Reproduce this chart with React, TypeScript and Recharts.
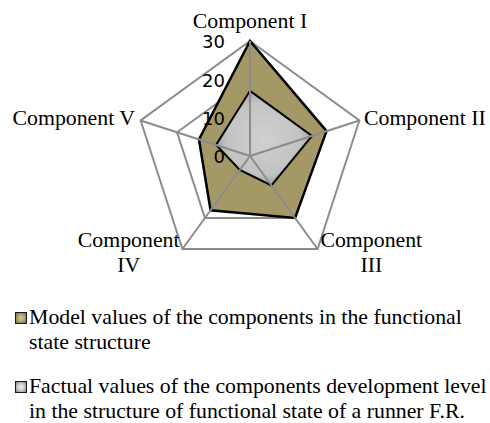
import { PolarAngleAxis, PolarGrid, PolarRadiusAxis, Radar, RadarChart, Legend } from "recharts"

const categories = ["Component I", "Component II", "Component III", "Component IV", "Component V"]
const tickLabels = ["Component I", "Component II", "Component\nIII", "Component\nIV", "Component V"]
const modelValues = [30, 21, 20, 17.5, 14]
const factualValues = [17, 17, 9.5, 4.5, 9.3]
const radiusTicks = [0, 10, 20, 30]
const seriesNames = [
  "Model values of the components in the functional\nstate structure",
  "Factual values of the components development level\nin the structure of functional state of a runner F.R.",
]

const data = categories.map((c, i) => ({
  name: c,
  label: tickLabels[i],
  model: modelValues[i],
  factual: factualValues[i],
}))

const serif = "'Liberation Serif', 'Times New Roman', serif"

const AngleTick = (props: any) => {
  const { x, y, payload, index, textAnchor } = props
  const lines = String(tickLabels[index] ?? payload.value).split("\n")
  if (lines.length > 1) {
    const dx = textAnchor === "start" ? 49 : -49
    return (
      <text x={x + dx} y={y - 9} textAnchor="middle" fontFamily={serif} fontSize={21.8} fill="#000">
        {lines.map((l, i) => (
          <tspan key={i} x={x + dx} dy={i === 0 ? 0 : 25}>
            {l}
          </tspan>
        ))}
      </text>
    )
  }
  let tx = x
  let ty = y + 7
  if (textAnchor === "middle") ty = y - 5
  if (textAnchor === "start") tx = x - 3
  if (textAnchor === "end") tx = x + 2
  return (
    <text x={tx} y={ty} textAnchor={textAnchor} fontFamily={serif} fontSize={21.8} fill="#000">
      {lines[0]}
    </text>
  )
}

const RadiusTick = (props: any) => {
  const { x, y, payload } = props
  return (
    <text x={x - 25} y={y} dy="0.4em" textAnchor="end" fontFamily="'DejaVu Sans', sans-serif" fontSize={18} fill="#000">
      {payload.value}
    </text>
  )
}

const markerBg = [
  "radial-gradient(circle, #d8cf98 0%, #a59a66 60%, #6e6640 100%)",
  "radial-gradient(circle, #f4f4f4 0%, #bdbdbd 60%, #7a7a7a 100%)",
]

const CustomLegend = () => (
  <div style={{ fontFamily: serif, fontSize: 21.8, lineHeight: "25px", color: "#000" }}>
    {seriesNames.map((n, i) => (
      <div key={i} style={{ display: "flex", alignItems: "flex-start", marginBottom: i === 0 ? 19 : 0 }}>
        <div
          style={{
            width: 10,
            height: 10,
            border: "1.5px solid #1a1a1a",
            background: markerBg[i],
            marginTop: 7,
            marginRight: 2,
            flexShrink: 0,
          }}
        />
        <div style={{ whiteSpace: "pre" }}>{n}</div>
      </div>
    ))}
  </div>
)

export default function App() {
  return (
    <div style={{ width: 490, height: 423, overflow: "hidden" }}>
      <style>{"body { margin: 0; }"}</style>
      <RadarChart
        width={490}
        height={423}
        data={data}
        cx={250}
        cy={156}
        outerRadius={115}
        margin={{ top: 0, right: 0, bottom: 0, left: 0 }}
      >
        <defs>
          <radialGradient id="factualFill" cx="50%" cy="50%" r="55%">
            <stop offset="0%" stopColor="#d0d0d0" />
            <stop offset="70%" stopColor="#c3c3c3" />
            <stop offset="100%" stopColor="#999999" />
          </radialGradient>
        </defs>
        <PolarGrid gridType="polygon" radialLines={false} stroke="#8c8c8c" strokeWidth={2} strokeOpacity={1} />
        <PolarAngleAxis dataKey="name" tick={<AngleTick />} tickLine={false} axisLine={false} />
        <Radar
          name={seriesNames[0]}
          dataKey="model"
          fill="#a49966"
          fillOpacity={1}
          stroke="#000"
          strokeWidth={2.5}
          isAnimationActive={false}
        />
        <Radar
          name={seriesNames[1]}
          dataKey="factual"
          fill="url(#factualFill)"
          fillOpacity={1}
          stroke="#000"
          strokeWidth={2}
          isAnimationActive={false}
        />
        <PolarGrid
          gridType="polygon"
          polarRadius={[0]}
          stroke="#8c8c8c"
          strokeWidth={2}
          strokeOpacity={1}
          {...({ zIndex: 700 } as any)}
        />
        <PolarRadiusAxis
          angle={90}
          domain={[0, 30]}
          ticks={radiusTicks as any}
          tickCount={4}
          axisLine={false}
          tickLine={false}
          tick={<RadiusTick />}
          {...({ zIndex: 800 } as any)}
        />
        <Legend
          content={<CustomLegend />}
          wrapperStyle={{ position: "absolute", top: 305, left: 15, width: 475 }}
        />
      </RadarChart>
    </div>
  )
}
